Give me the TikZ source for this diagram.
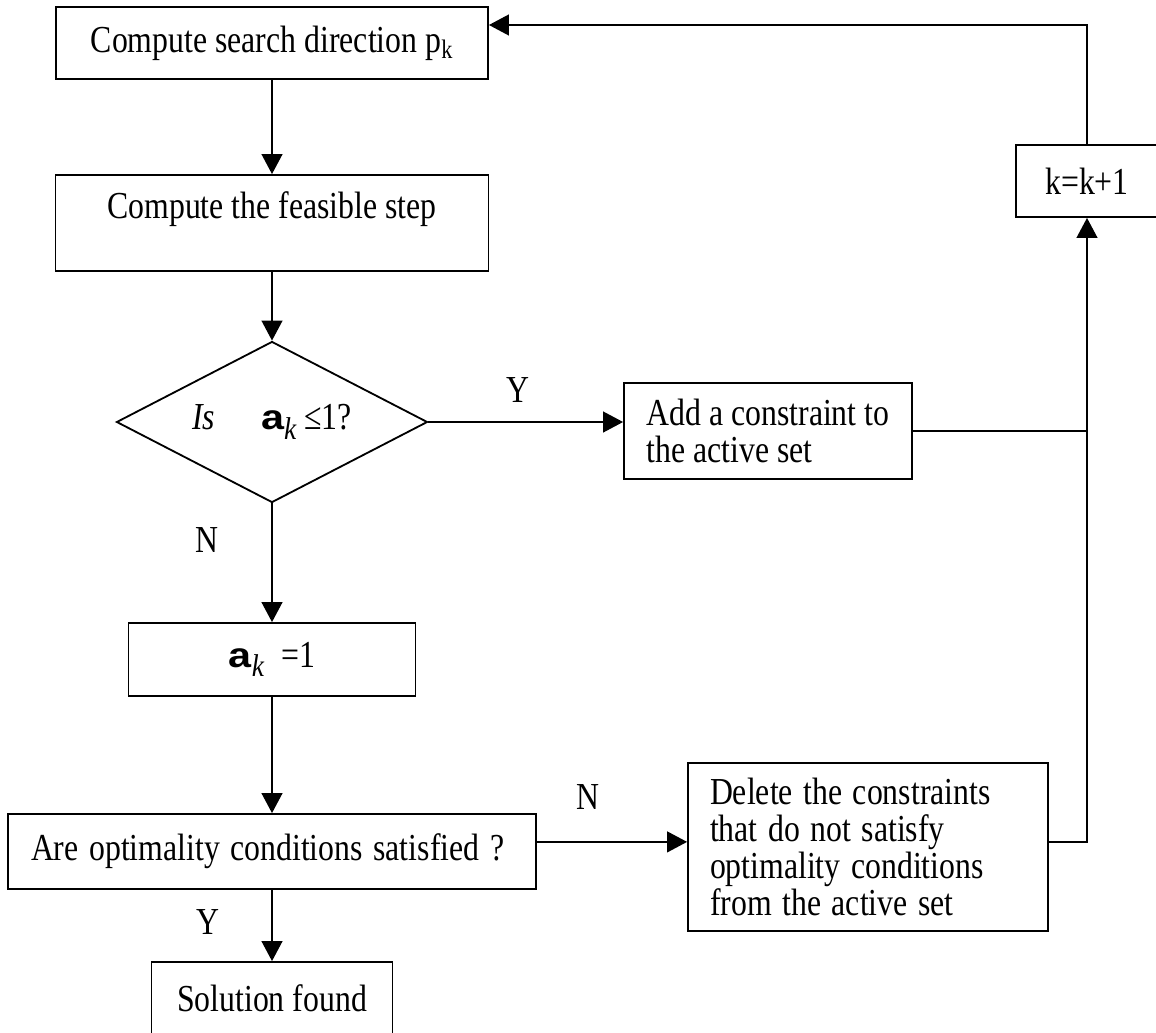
\documentclass[tikz,border=0pt]{standalone}
\usepackage{fontspec}
\usepackage{graphicx}
\setmainfont{Liberation Serif}
\newfontfamily\arialfont{Liberation Sans}
\usetikzlibrary{arrows.meta,shapes.geometric}
\def\px{0.025cm}
\newcommand{\tall}[1]{\scalebox{1}[1.2]{#1}}
\def\alphak{\scalebox{1.3}[1.1]{\arialfont\bfseries a}\raisebox{-0.3em}{\scalebox{1}[1.15]{\fontsize{19.5pt}{19.5pt}\selectfont\itshape k}}}

\tikzset{
	flow/.style={draw, line width=1.3pt, rectangle, inner sep=0pt, font=\fontsize{22.6pt}{26.4pt}\selectfont},
	lbl/.style={font=\fontsize{22.6pt}{26.4pt}\selectfont},
	arr/.style={line width=1.3pt, -{Triangle[length=0.5cm,width=0.52cm]}}
}

\begin{document}
\begin{tikzpicture}[x=0.025cm, y=-0.025cm]
			%%%%% START %%%%%
			\useasboundingbox (0,0) rectangle (1156,1032);
			
			\node[flow, minimum width=432*\px, minimum height=72*\px] (search) at (272,43) {\tall{Compute search direction p\textsubscript{k}}};
			\node[flow, minimum width=433*\px, minimum height=96*\px, text height=0.55cm, text depth=0.8cm] (feas) at (272,223) {\tall{Compute the feasible step}};
			\node[flow, diamond, aspect=1.93, minimum width=311*\px, minimum height=161*\px] (test) at (272,422) {\tall{\textit{Is}}\hspace{1.45em}\alphak\hspace{0.25em}\tall{≤1?}};
			\node[flow, minimum width=288*\px, minimum height=96*\px, align=left] (add) at (768,431) {\tall{Add a constraint to}\\\tall{the active set}};
			\node[flow, minimum width=142*\px, minimum height=72*\px] (kbox) at (1087,181) {\tall{k=k+1}};
			\node[flow, minimum width=287*\px, minimum height=73*\px] (alpha) at (272,659.5) {\alphak\hspace{0.55em}\tall{=1}};
			\node[flow, minimum height=75*\px, text width=482*\px, inner xsep=23*\px, align=left] (opt) at (272,851.5) {\tall{Are optimality conditions satisfied ?}};
			\node[flow, minimum height=168*\px, text width=316*\px, inner xsep=22*\px, align=left] (del) at (868,847) {\tall{Delete the constraints}\\\tall{that do not satisfy}\\\tall{optimality conditions}\\\tall{from the active set}};
			\node[flow, minimum width=241*\px, minimum height=72*\px] (sol) at (272,998) {\tall{Solution found}};
			
			\node[lbl] (yes1) at (518,390) {\tall{Y}};
			\node[lbl] (no1) at (207,540) {\tall{N}};
			\node[lbl] (no2) at (588,797) {\tall{N}};
			\node[lbl] (yes2) at (208,922) {\tall{Y}};
			
			\draw[arr] (search.south) -- (feas.north);
			\draw[arr] (feas.south) -- (test.north);
			\draw[arr] (test.east) -- (test.east -| add.west);
			\draw[arr] (test.south) -- (alpha.north);
			\draw[arr] (alpha.south) -- (opt.north);
			\draw[arr] (opt.south) -- (sol.north);
			\draw[arr] ([yshift=0.24cm]opt.east) -- ([yshift=0.24cm]opt.east -| del.west);
			
			\coordinate (merge) at (add.east -| kbox.south);
			\draw[line width=1.3pt] (add.east) -- (merge);
			\draw[arr] ([yshift=0.12cm]del.east) -| (kbox.south);
			\draw[arr] (kbox.north) |- ([yshift=0.45cm]search.east);
			
			%%%%% END %%%%%
\end{tikzpicture}
\end{document}
